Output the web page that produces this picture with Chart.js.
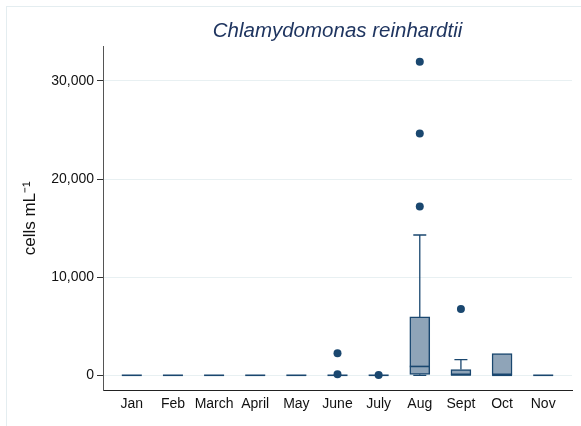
<!DOCTYPE html>
<html>
<head>
<meta charset="utf-8">
<script src="https://cdn.jsdelivr.net/npm/chart.js@4.4.1/dist/chart.umd.min.js"></script>
<style>
  html, body { margin: 0; padding: 0; background: #fff; }
</style>
</head>
<body>
<canvas id="c" width="581" height="426"></canvas>
<script>
// months on the x axis
const months = ["Jan", "Feb", "March", "April", "May", "June", "July", "Aug", "Sept", "Oct", "Nov"];
// box plot stats per month (cells mL-1)
const whiskerLow = [0, 0, 0, 0, 0, 0, 0, 0, 0, 0, 0];
const q1 = [0, 0, 0, 0, 0, 0, 0, 100, 0, 0, 0];
const median = [0, 0, 0, 0, 0, 0, 0, 900, 30, 0, 0];
const q3 = [0, 0, 0, 0, 0, 0, 0, 5950, 580, 2200, 0];
const whiskerHigh = [0, 0, 0, 0, 0, 0, 0, 14300, 1600, 2200, 0];
// outside values
const outlierMonth = [5, 5, 6, 7, 7, 7, 8];
const outlierValue = [100, 2250, 30, 17200, 24650, 31950, 6750];
const yTicks = [0, 10000, 20000, 30000];

const navy = "#1a476f";
const boxFill = "#8fa4b8";

const boxData = [];
months.forEach((m, i) => {
  if (q3[i] > q1[i]) boxData.push({ x: i, y: [q1[i], q3[i]] });
});
const outlierData = outlierMonth.map((m, i) => ({ x: m, y: outlierValue[i] }));

// whiskers, caps and medians
const boxPlotLines = {
  id: "boxPlotLines",
  afterDatasetsDraw(chart) {
    const ctx = chart.ctx;
    const xs = chart.scales.x, ys = chart.scales.y;
    ctx.save();
    ctx.strokeStyle = navy;
    months.forEach((m, i) => {
      const cx = xs.getPixelForValue(i);
      ctx.lineWidth = 1.3;
      ctx.beginPath();
      if (whiskerHigh[i] > q3[i]) {
        ctx.moveTo(cx, ys.getPixelForValue(q3[i]));
        ctx.lineTo(cx, ys.getPixelForValue(whiskerHigh[i]));
        ctx.moveTo(cx - 6.5, ys.getPixelForValue(whiskerHigh[i]));
        ctx.lineTo(cx + 6.5, ys.getPixelForValue(whiskerHigh[i]));
      }
      if (whiskerLow[i] < q1[i]) {
        ctx.moveTo(cx, ys.getPixelForValue(q1[i]));
        ctx.lineTo(cx, ys.getPixelForValue(whiskerLow[i]));
        ctx.moveTo(cx - 6.5, ys.getPixelForValue(whiskerLow[i]));
        ctx.lineTo(cx + 6.5, ys.getPixelForValue(whiskerLow[i]));
      }
      ctx.stroke();
      ctx.lineWidth = 1.6;
      ctx.beginPath();
      ctx.moveTo(cx - 10, ys.getPixelForValue(median[i]));
      ctx.lineTo(cx + 10, ys.getPixelForValue(median[i]));
      ctx.stroke();
    });
    ctx.restore();
  }
};

// light outer frame
const frame = {
  id: "frame",
  beforeDraw(chart) {
    const ctx = chart.ctx;
    ctx.save();
    ctx.fillStyle = "#fff";
    ctx.fillRect(0, 0, chart.width, chart.height);
    ctx.strokeStyle = "#e4edf0";
    ctx.lineWidth = 1;
    ctx.strokeRect(6.5, 6.5, 600, 600);
    ctx.restore();
  }
};

new Chart(document.getElementById("c"), {
  type: "bar",
  data: {
    datasets: [
      {
        type: "bar",
        data: boxData,
        backgroundColor: boxFill,
        borderColor: navy,
        borderWidth: 1.5,
        borderSkipped: false,
        barThickness: 20,
        grouped: false,
      },
      {
        type: "scatter",
        data: outlierData,
        backgroundColor: navy,
        borderColor: navy,
        pointRadius: 4,
        pointBorderWidth: 0,
      },
    ],
  },
  options: {
    responsive: false,
    animation: false,
    layout: { padding: { left: 0, right: 9, top: 0, bottom: 0 } },
    plugins: {
      legend: { display: false },
      tooltip: { enabled: false },
      title: {
        display: true,
        text: "Chlamydomonas reinhardtii",
        fullSize: false,
        color: "#1f3560",
        font: { family: "Liberation Sans", size: 20.5, style: "italic", weight: "normal" },
        padding: { top: 19, bottom: 3 },
      },
    },
    scales: {
      x: {
        type: "linear",
        offset: false,
        min: -0.7,
        max: 10.7,
        grid: { display: false },
        border: { display: true, color: "#222", width: 1 },
        afterBuildTicks: (axis) => { axis.ticks = months.map((m, i) => ({ value: i })); },
        afterFit: (scale) => { scale.height = 36; },
        ticks: {
          autoSkip: false,
          maxRotation: 0,
          padding: -2,
          color: "#111",
          font: { family: "Liberation Sans", size: 14 },
          callback: (v) => months[v],
        },
      },
      y: {
        min: -1500,
        max: 33500,
        afterBuildTicks: (axis) => { axis.ticks = yTicks.map((v) => ({ value: v })); },
        afterFit: (scale) => { scale.width = 103; },
        grid: { color: "#e8f0f2", tickColor: "#333", tickLength: 6, lineWidth: 1 },
        border: { display: true, color: "#555", width: 1 },
        ticks: {
          padding: 3,
          color: "#111",
          font: { family: "Liberation Sans", size: 14 },
          callback: (v) => v.toLocaleString("en-US"),
        },
        title: {
          display: true,
          text: "cells mL⁻¹",
          color: "#111",
          font: { family: "Liberation Sans", size: 17 },
          padding: { top: 20, bottom: 0 },
        },
      },
    },
  },
  plugins: [frame, boxPlotLines],
});
</script>
</body>
</html>
